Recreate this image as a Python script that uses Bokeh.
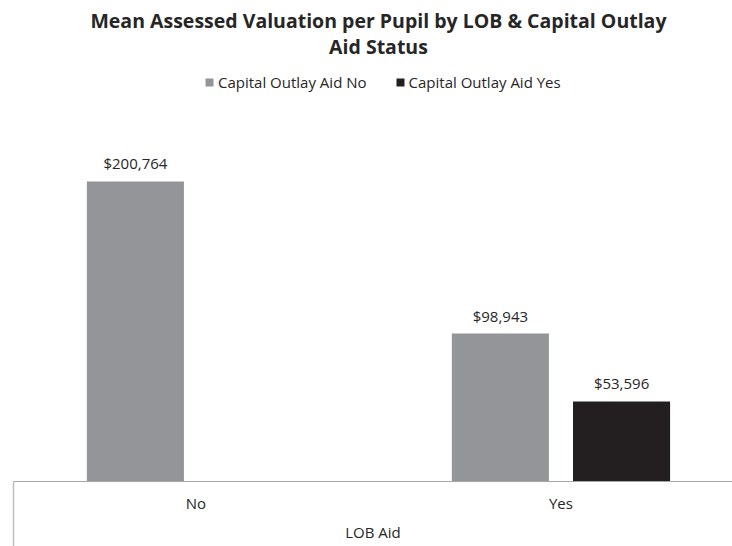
from bokeh.plotting import figure
from bokeh.models import Range1d, FixedTicker, ColumnDataSource, Legend, LegendItem, Label, Title
from bokeh.embed import file_html
from bokeh.resources import INLINE
from bokeh.core.properties import value

categories = ["No", "Yes"]
series_names = ["Capital Outlay Aid No", "Capital Outlay Aid Yes"]
aid_no_values = [200764, 98943]
aid_yes_values = [None, 53596]
title_lines = ["Mean Assessed Valuation per Pupil by LOB & Capital Outlay", "Aid Status"]
x_title = "LOB Aid"

GRAY = "#939598"
BLACK = "#231f20"
TEXT = "#262626"
FONT = "Open Sans"

centers = [i + 0.5 for i in range(len(categories))]
offset = 0.166
bar_w = 0.266

p = figure(width=732, height=546, output_backend="svg", toolbar_location=None,
           x_range=Range1d(0, 1.97), y_range=Range1d(0, 321800),
           min_border_left=13, min_border_right=0, min_border_top=0, min_border_bottom=0)
p.outline_line_color = None
p.xgrid.visible = False
p.ygrid.visible = False
p.yaxis.visible = False

renderers = []
for k, (vals, color, off) in enumerate([(aid_no_values, GRAY, -offset), (aid_yes_values, BLACK, offset)]):
    xs = [c + off for c, v in zip(centers, vals) if v is not None]
    tops = [v for v in vals if v is not None]
    src = ColumnDataSource(dict(x=xs, top=tops, lab=["${:,}".format(v) for v in tops]))
    r = p.vbar(x="x", top="top", width=bar_w, bottom=0, source=src, fill_color=color, line_color=None)
    renderers.append(r)
    p.text(x="x", y="top", text="lab", source=src, text_align="center", text_baseline="bottom",
           y_offset=-8, text_font=value(FONT), text_font_size="15px", text_color=TEXT)

legend = Legend(items=[LegendItem(label=series_names[i], renderers=[renderers[i]]) for i in range(2)],
                orientation="horizontal", location=(191, 389), border_line_color=None,
                background_fill_alpha=0, padding=0, margin=0, spacing=28, label_standoff=4,
                glyph_width=10, glyph_height=10, label_text_font=FONT, label_text_font_size="15px",
                label_text_color=TEXT, label_height=14)
p.add_layout(legend)

ax = p.xaxis[0]
ax.ticker = FixedTicker(ticks=centers, minor_ticks=[0])
ax.major_label_overrides = {c: cat for c, cat in zip(centers, categories)}
ax.major_tick_line_color = None
ax.major_tick_out = 0
ax.major_tick_in = 0
ax.minor_tick_in = 0
ax.minor_tick_out = 65
ax.minor_tick_line_color = "#bfbfbf"
ax.minor_tick_line_width = 1.5
ax.axis_line_color = "#a6a6a6"
ax.axis_line_width = 1.2
ax.major_label_standoff = -54
ax.major_label_text_font = FONT
ax.major_label_text_font_size = "15px"
ax.major_label_text_color = TEXT

p.add_layout(Title(text=x_title, align="center", offset=7, standoff=9, text_font=FONT,
                   text_font_size="15px", text_font_style="normal", text_color=TEXT), "below")

for i, line in enumerate(title_lines):
    p.add_layout(Label(x=1.0, y=308500 - i * 17400, text=line, text_align="center", text_baseline="middle",
                       text_font=FONT, text_font_size="19.5px", text_font_style="bold", text_color=TEXT))

open("out.html", "w").write(file_html(p, INLINE))
